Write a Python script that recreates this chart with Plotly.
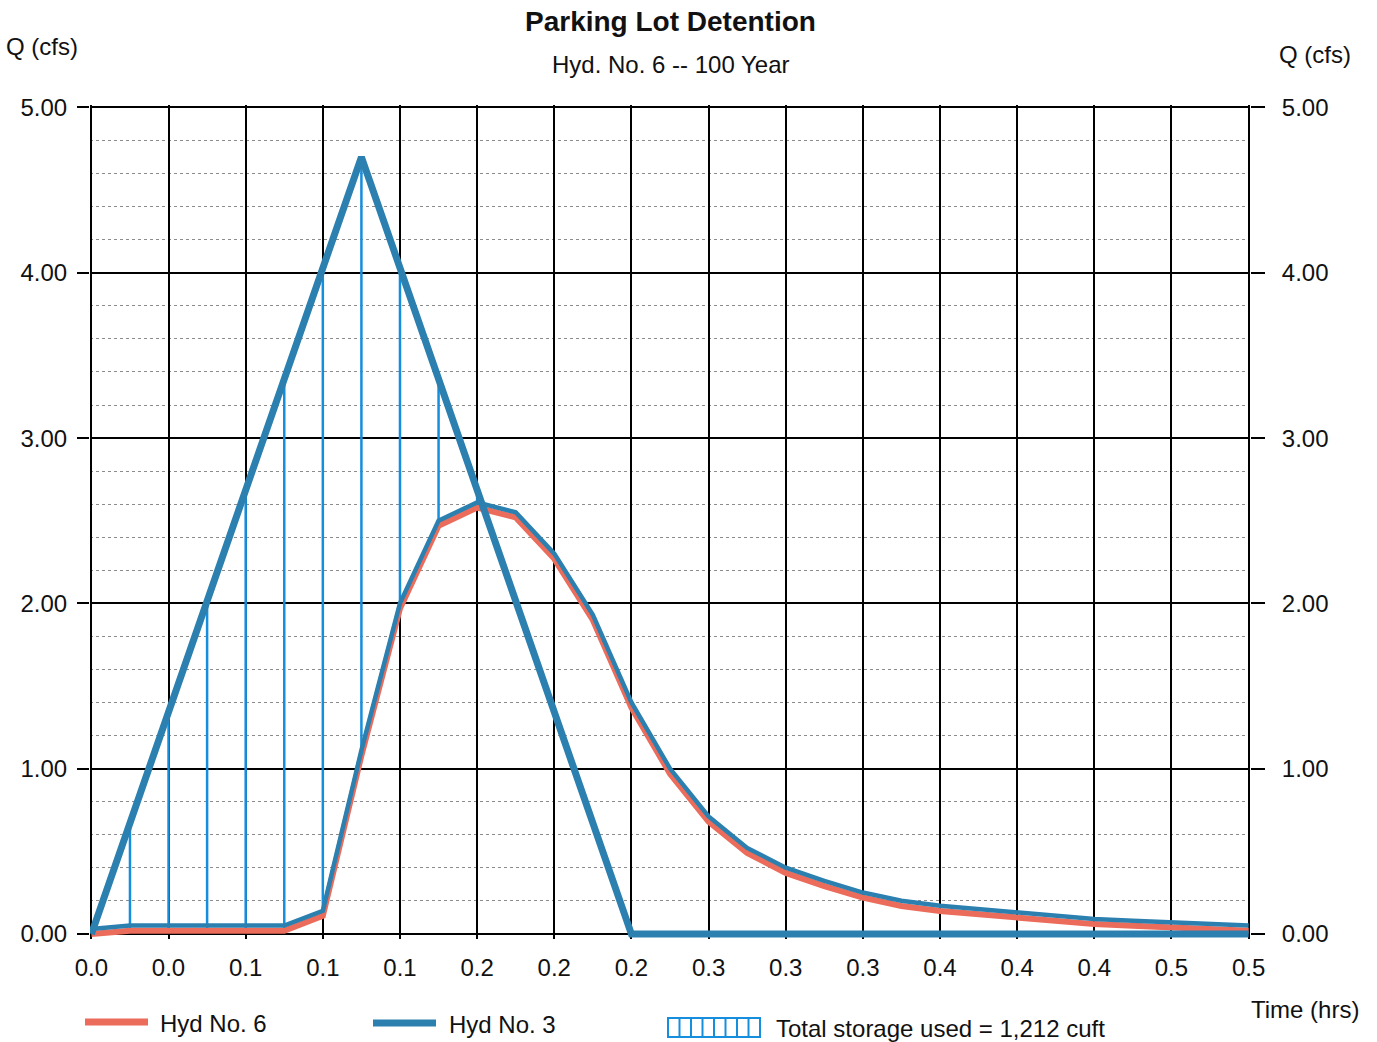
import plotly.graph_objects as go

# ---------------- data ----------------
time_min = [0, 1, 2, 3, 4, 5, 6, 7, 8, 9, 10, 11, 12, 13, 14, 15,
            16, 17, 18, 19, 20, 21, 22, 23, 24, 25, 26, 27, 28, 29, 30]
inflow_hyd3 = [0.00, 0.67, 1.34, 2.01, 2.68, 3.36, 4.03, 4.70, 4.03, 3.36,
               2.68, 2.01, 1.34, 0.67, 0.00, 0.00, 0.00, 0.00, 0.00, 0.00,
               0.00, 0.00, 0.00, 0.00, 0.00, 0.00, 0.00, 0.00, 0.00, 0.00, 0.00]
outflow_hyd6 = [0.00, 0.02, 0.02, 0.02, 0.02, 0.02, 0.11, 1.08, 1.97, 2.47,
                2.58, 2.52, 2.27, 1.90, 1.37, 0.97, 0.68, 0.49, 0.37, 0.29,
                0.22, 0.17, 0.14, 0.12, 0.10, 0.08, 0.06, 0.05, 0.04, 0.03, 0.02]
x_tick_minutes = [0, 2, 4, 6, 8, 10, 12, 14, 16, 18, 20, 22, 24, 26, 28, 30]
y_ticks = [0, 1, 2, 3, 4, 5]

title = "Parking Lot Detention"
subtitle = "Hyd. No. 6 -- 100 Year"
name_out = "Hyd No. 6"
name_in = "Hyd No. 3"
storage_label = "Total storage used = 1,212 cuft"

# ---------------- styles ----------------
FONT = "Liberation Sans, Arial, sans-serif"
RED = "rgb(236,108,92)"
BLUE = "rgb(44,128,176)"
HATCH = "rgb(22,142,222)"
INK = "#111111"

t_hr = [m / 60 for m in time_min]

# storage hatch: vertical segments between outflow and inflow where inflow > outflow
hx, hy = [], []
for t, qi, qo in zip(t_hr, inflow_hyd3, outflow_hyd6):
    if qi - qo > 0.05:
        hx += [t, t, None]
        hy += [qo, qi, None]

fig = go.Figure()
fig.add_trace(go.Scatter(x=hx, y=hy, mode="lines",
                         line=dict(color=HATCH, width=2.5),
                         hoverinfo="skip", showlegend=False))
# blue print-registration shadow of the outflow curve (drawn slightly above)
fig.add_trace(go.Scatter(x=t_hr, y=outflow_hyd6, mode="lines", yaxis="y3",
                         line=dict(color=BLUE, width=4.5),
                         hoverinfo="skip", showlegend=False))
fig.add_trace(go.Scatter(x=t_hr, y=outflow_hyd6, mode="lines", name=name_out,
                         line=dict(color=RED, width=6), showlegend=False))
fig.add_trace(go.Scatter(x=t_hr, y=inflow_hyd3, mode="lines", name=name_in,
                         line=dict(color=BLUE, width=7), showlegend=False))
# carrier for the right-hand axis
fig.add_trace(go.Scatter(x=t_hr, y=inflow_hyd3, mode="lines", yaxis="y2",
                         line=dict(color="rgba(0,0,0,0)", width=0),
                         hoverinfo="skip", showlegend=False))

YR = [-0.03, 5.015]
SHIFT = 0.031

tickfont = dict(family=FONT, size=24, color=INK)
fig.update_layout(
    width=1377, height=1042,
    margin=dict(l=90, r=127, t=105, b=103),
    paper_bgcolor="white", plot_bgcolor="white",
    showlegend=False,
    xaxis=dict(range=[-0.0006, 0.5006], tickmode="array",
               tickvals=[m / 60 for m in x_tick_minutes],
               ticktext=[f"{m / 60:.1f}" for m in x_tick_minutes],
               showgrid=True, gridcolor="black", gridwidth=2,
               zeroline=False, showline=False, ticks="",
               ticklabelstandoff=12, tickfont=tickfont),
    yaxis=dict(range=YR, tickmode="array", tickvals=y_ticks,
               ticktext=[f"{v:.2f}" for v in y_ticks],
               showgrid=True, gridcolor="black", gridwidth=2,
               zeroline=False, showline=False,
               ticks="outside", ticklen=12, tickwidth=2, tickcolor="black",
               ticklabelstandoff=5, tickfont=tickfont,
               minor=dict(dtick=0.2, showgrid=True, gridcolor="rgb(140,140,140)",
                          griddash="dot", gridwidth=1, ticks="")),
    yaxis2=dict(range=YR, overlaying="y", side="right", tickmode="array",
                tickvals=y_ticks, ticktext=[f"{v:.2f}" for v in y_ticks],
                showgrid=False, zeroline=False, showline=False,
                ticks="outside", ticklen=14, tickwidth=2, tickcolor="black",
                ticklabelstandoff=12, tickfont=tickfont),
    yaxis3=dict(range=[YR[0] - SHIFT, YR[1] - SHIFT], overlaying="y",
                visible=False),
)

W, T, B = 1160, 105, 939
H = B - T


def px(x):
    return (x - 90) / W


def py(y):
    return (B - y) / H


ann = [
    dict(text=f"<b>{title}</b>", x=px(670), y=py(22), size=28, xanchor="center"),
    dict(text=subtitle, x=px(670), y=py(64), size=24, xanchor="center"),
    dict(text="Q (cfs)", x=px(4), y=py(47), size=24, xanchor="left"),
    dict(text="Q (cfs)", x=px(1277), y=py(55), size=24, xanchor="left"),
    dict(text="Time (hrs)", x=px(1249), y=py(1010), size=24, xanchor="left"),
    dict(text=name_out, x=px(158), y=py(1023), size=24, xanchor="left"),
    dict(text=name_in, x=px(447), y=py(1024), size=24, xanchor="left"),
    dict(text=storage_label, x=px(774), y=py(1028), size=24, xanchor="left"),
]
for a in ann:
    fig.add_annotation(text=a["text"], x=a["x"], y=a["y"], xref="paper", yref="paper",
                       xanchor=a["xanchor"], yanchor="middle", showarrow=False,
                       font=dict(family=FONT, size=a["size"], color=INK))

shapes = [
    dict(type="line", x0=px(85), x1=px(148), y0=py(1022), y1=py(1022),
         line=dict(color=RED, width=7)),
    dict(type="line", x0=px(373), x1=px(436), y0=py(1023), y1=py(1023),
         line=dict(color=BLUE, width=7)),
    dict(type="rect", x0=px(668), x1=px(760), y0=py(1037), y1=py(1018),
         line=dict(color=HATCH, width=2)),
]
for k in range(1, 8):
    xx = 668 + k * (760 - 668) / 8
    shapes.append(dict(type="line", x0=px(xx), x1=px(xx), y0=py(1037), y1=py(1018),
                       line=dict(color=HATCH, width=2)))
for s in shapes:
    s.update(xref="paper", yref="paper")
    fig.add_shape(**s)

fig.write_html("out.html")
